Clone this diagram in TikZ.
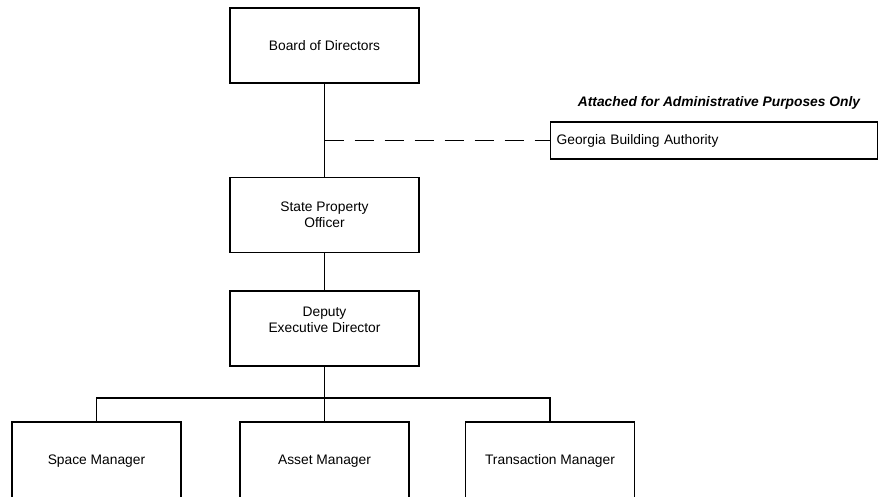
\documentclass[tikz,border=0pt]{standalone}
\usepackage{fontspec}
\setmainfont{Liberation Sans}
\begin{document}
\begin{tikzpicture}[x=1pt,y=-1pt,
  boxstyle/.style={draw=black,line width=1.3pt,fill=white,inner sep=0pt,align=center,
    font=\fontsize{13.8}{16}\selectfont},
  bigbox/.style={boxstyle,minimum width=189pt,minimum height=75pt},
  smallbox/.style={boxstyle,minimum width=169pt,minimum height=78pt},
  conn/.style={line width=1.3pt,draw=black},
  dashconn/.style={line width=1.3pt,draw=black,dash pattern=on 19pt off 11pt}]
\useasboundingbox (0,0) rectangle (878,496);
\clip (0,0) rectangle (878,496);
% nodes
\node[bigbox] (board) at (324.5,45.5) {Board of Directors};
\node[bigbox] (spo) at (324.5,215) {State Property\\Officer};
\node[bigbox] (dep) at (324.5,328.5) {};
\node[font=\fontsize{13.8}{16}\selectfont,align=center,inner sep=0pt] (deptext) at (324.5,320) {Deputy\\Executive Director};
\node[boxstyle,minimum width=327pt,minimum height=37pt,anchor=west,align=left,text width=315pt] (gba) at (550,140.5) {Georgia Building Authority};
\node[font=\fontsize{13.8}{16}\selectfont\bfseries\itshape,inner sep=0pt] (attached) at (719,103) {Attached for Administrative Purposes Only};
\node[smallbox] (space) at (96.5,461) {Space Manager};
\node[smallbox] (asset) at (324.5,461) {Asset Manager};
\node[smallbox] (trans) at (550,461) {Transaction Manager};
% connectors
\coordinate (junc) at (board.south |- gba.west);
\coordinate (bus) at (dep.south |- 0,398);
\draw[conn] (board.south) -- (spo.north);
\draw[dashconn] (junc) -- (gba.west);
\draw[conn] (spo.south) -- (dep.north);
\draw[conn] (dep.south) -- (asset.north);
\draw[conn] (space.north) -- (space.north |- bus) -- (trans.north |- bus) -- (trans.north);
\end{tikzpicture}
\end{document}
